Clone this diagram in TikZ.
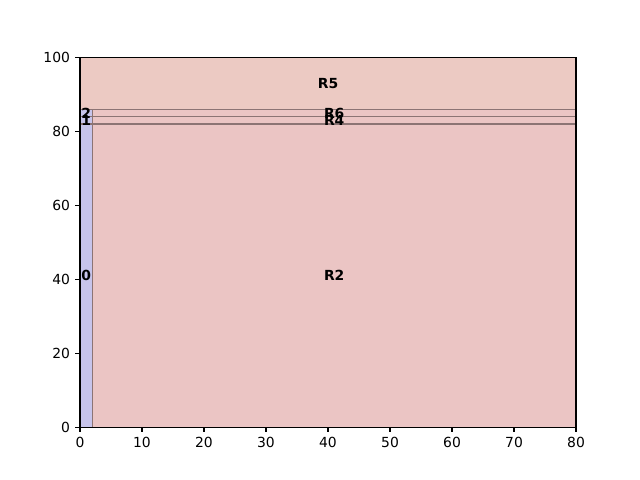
\documentclass[tikz,border=0pt]{standalone}
\usepackage{fontspec}
\setmainfont{DejaVu Sans}
\begin{document}
\begin{tikzpicture}[
  pinkfill/.style={fill={rgb,255:red,235;green,197;blue,196}},
  topfill/.style={fill={rgb,255:red,236;green,202;blue,195}},
  bluefill/.style={fill={rgb,255:red,199;green,196;blue,235}},
  edge/.style={draw={rgb,255:red,140;green,116;blue,116}, line width=1pt},
  lbl/.style={font=\bfseries\fontsize{10}{12}\selectfont, inner sep=0pt},
  tick/.style={line width=0.8pt, black},
  ticklbl/.style={font=\fontsize{10}{12}\selectfont, inner sep=0pt}
]
\useasboundingbox (0,0) rectangle (460.8pt,345.6pt);
\begin{scope}[shift={(57.6pt,38.016pt)}, x=4.464pt, y=2.6611pt]
  % regions
  \path[topfill, edge] (0,86) rectangle (80,100);
  \path[pinkfill, edge] (2,0) rectangle (80,82);
  \path[pinkfill, edge] (2,82) rectangle (80,84);
  \path[pinkfill, edge] (2,84) rectangle (80,86);
  \path[bluefill, edge] (0,0) rectangle (2,82);
  \path[bluefill, edge] (0,82) rectangle (2,84);
  \path[bluefill, edge] (0,84) rectangle (2,86);
  % labels
  \node[lbl] (r5) at (40,93) {R5};
  \node[lbl] (r6) at (41,85) {R6};
  \node[lbl] (r4) at (41,83) {R4};
  \node[lbl] (r2) at (41,41) {R2};
  \node[lbl] (l2) at (1,85) {2};
  \node[lbl] (l1) at (1,83) {1};
  \node[lbl] (l0) at (1,41) {0};
  % axes frame
  \draw[line width=0.8pt, black] (0,0) rectangle (80,100);
  % ticks
  \foreach \v in {0,10,...,80} {
    \draw[tick] (\v,0) -- ++(0,-3.5pt);
    \node[ticklbl, anchor=north] (xt\v) at ([yshift=-7pt]\v,0) {\v};
  }
  \foreach \v in {0,20,...,100} {
    \draw[tick] (0,\v) -- ++(-3.5pt,0);
    \node[ticklbl, anchor=east] (yt\v) at ([xshift=-7pt]0,\v) {\v};
  }
\end{scope}
\end{tikzpicture}
\end{document}
